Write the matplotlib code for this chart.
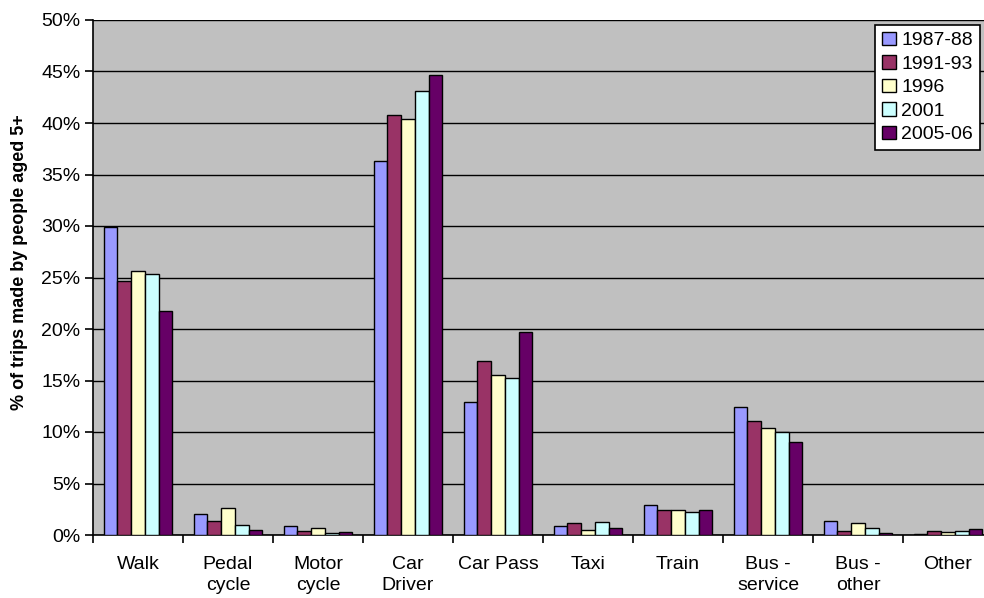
import matplotlib.pyplot as plt
import numpy as np

plt.rcParams['font.family'] = ['Liberation Sans', 'DejaVu Sans']

# Datos
categories = ['Walk', 'Pedal\ncycle', 'Motor\ncycle', 'Car\nDriver', 'Car Pass',
              'Taxi', 'Train', 'Bus -\nservice', 'Bus -\nother', 'Other']
years = ['1987-88', '1991-93', '1996', '2001', '2005-06']
v_1987 = [29.9, 2.0, 0.85, 36.3, 12.9, 0.84, 2.9, 12.4, 1.39, 0.13]
v_1991 = [24.7, 1.4, 0.40, 40.8, 16.9, 1.13, 2.4, 11.1, 0.39, 0.39]
v_1996 = [25.6, 2.6, 0.70, 40.4, 15.5, 0.49, 2.4, 10.4, 1.13, 0.26]
v_2001 = [25.3, 1.0, 0.22, 43.1, 15.2, 1.26, 2.26, 10.0, 0.68, 0.39]
v_2005 = [21.7, 0.5, 0.27, 44.7, 19.7, 0.68, 2.4, 9.0, 0.16, 0.55]
series = [v_1987, v_1991, v_1996, v_2001, v_2005]
colors = ['#9999FF', '#993366', '#FFFFCC', '#CCFFFF', '#660066']

fig = plt.figure(figsize=(9.84, 5.98), dpi=100)
ax = fig.add_axes([93/984, 63/598, 900/984, 515/598])
ax.set_facecolor('#C0C0C0')

x = np.arange(len(categories))
w = 0.153
for k, (vals, c) in enumerate(zip(series, colors)):
    ax.bar(x + (k - 2) * w, vals, width=w, color=c, edgecolor='black',
           linewidth=1, label=years[k], zorder=3)

ax.set_xlim(-0.5, len(categories) - 0.5)
ax.set_ylim(0, 50)
ax.set_yticks(np.arange(0, 51, 5))
ax.set_yticklabels([f'{v}%' for v in range(0, 51, 5)], fontsize=14)
ax.yaxis.grid(True, color='black', linewidth=1, zorder=0)
ax.set_axisbelow(True)

# Etiquetas de categorías entre los ticks
ax.set_xticks(np.arange(len(categories) + 1) - 0.5)
ax.set_xticklabels([])
ax.set_xticks(x, minor=True)
ax.set_xticklabels(categories, minor=True, fontsize=14, linespacing=1.3, va='top')
ax.tick_params(axis='x', which='minor', length=0, pad=15)
ax.tick_params(axis='x', which='major', length=6, width=1.2, direction='out')
ax.tick_params(axis='y', length=6, width=1.2, direction='out', pad=3)

for s in ['top', 'right']:
    ax.spines[s].set_visible(False)
ax.spines['left'].set_linewidth(1.2)
ax.spines['bottom'].set_linewidth(1.2)

ax.set_ylabel('% of trips made by people aged 5+', fontsize=13, fontweight='bold')
ax.yaxis.set_label_coords(-0.072, 0.53)

leg = ax.legend(loc='upper right', bbox_to_anchor=(980/984, 1 - 25/598),
                bbox_transform=fig.transFigure, borderaxespad=0, fontsize=14,
                frameon=True, fancybox=False, framealpha=1, edgecolor='black',
                handlelength=0.7, handleheight=0.7, handletextpad=0.3,
                labelspacing=0.3, borderpad=0.35)
leg.get_frame().set_linewidth(1.2)

plt.savefig('out.png', dpi=100)
